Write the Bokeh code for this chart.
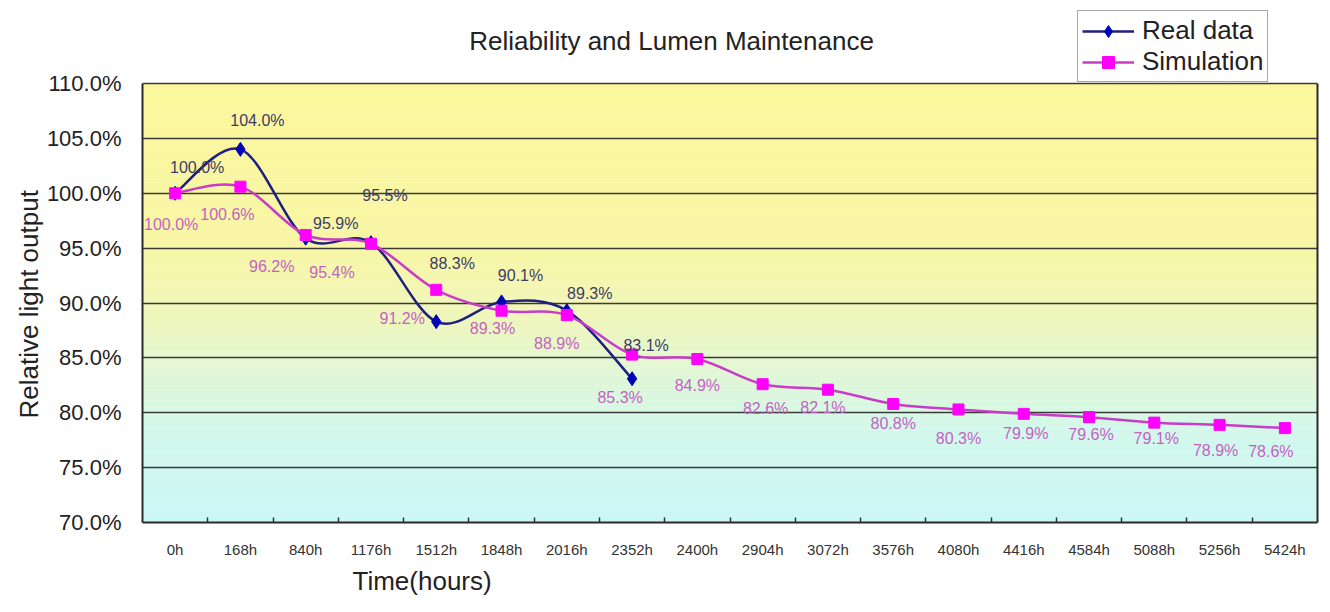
import numpy as np
from bokeh.plotting import figure
from bokeh.models import (Range1d, FixedTicker, PrintfTickFormatter, Label, Title,
                          Legend, LegendItem, ColumnDataSource, LinearAxis)
from bokeh.embed import file_html
from bokeh.resources import INLINE
from bokeh.core.properties import value

# ---------------- data ----------------
hours = ["0h", "168h", "840h", "1176h", "1512h", "1848h", "2016h", "2352h",
         "2400h", "2904h", "3072h", "3576h", "4080h", "4416h", "4584h",
         "5088h", "5256h", "5424h"]
real_data = [100.0, 104.0, 95.9, 95.5, 88.3, 90.1, 89.3, 83.1]
simulation = [100.0, 100.6, 96.2, 95.4, 91.2, 89.3, 88.9, 85.3, 84.9, 82.6,
              82.1, 80.8, 80.3, 79.9, 79.6, 79.1, 78.9, 78.6]
y_ticks = [70, 75, 80, 85, 90, 95, 100, 105, 110]

# data-label placement (pixel offsets, styling only)
real_dx = [22, 17, 30, 14, 16, 19, 23, 14]
real_dy = [-26, -29, -15, -47, -58, -26, -17, -33]
sim_dx = [-4, -13, -34, -39, -34, -9, -10, -12, 0, 3, -5, 0, 0, 2, 2, 2, -4, -14]
sim_dy = [31, 28, 32, 29, 29, 18, 28, 43, 27, 24, 18, 20, 29, 20, 17, 16, 26, 23]

FONT = "Liberation Sans"

# ---------------- layout constants (pixels) ----------------
W, H = 1330, 612
PLOT_L, PLOT_R, PLOT_T, PLOT_B = 142, 1317, 83, 522   # plot box in page px
FRAME_T = 4                                            # frame extends above plot box
Y_LO, Y_HI = 70.0, 110.0
y_top = Y_HI + (PLOT_T - FRAME_T) * (Y_HI - Y_LO) / (PLOT_B - PLOT_T)


def smooth_segments(vals, t=1.0 / 6.0):
    """Excel-like smoothed line: cubic bezier control points from data."""
    y = np.asarray(vals, dtype=float)
    x = np.arange(len(y), dtype=float)
    n = len(y)
    i = np.arange(n - 1)
    im1 = np.maximum(i - 1, 0)
    ip2 = np.minimum(i + 2, n - 1)
    return dict(
        x0=x[i], y0=y[i], x1=x[i + 1], y1=y[i + 1],
        cx0=x[i] + t * (x[i + 1] - x[im1]), cy0=y[i] + t * (y[i + 1] - y[im1]),
        cx1=x[i + 1] - t * (x[ip2] - x[i]), cy1=y[i + 1] - t * (y[ip2] - y[i]),
    )


X_LO, X_HI = -0.5, len(hours) - 0.5
p = figure(width=W, height=H, title=None,
           x_range=Range1d(X_LO, X_HI), y_range=Range1d(Y_LO, y_top),
           output_backend="svg", toolbar_location=None,
           min_border_left=PLOT_L, min_border_right=W - PLOT_R,
           min_border_top=FRAME_T, min_border_bottom=H - PLOT_B)
p.border_fill_color = "white"
p.background_fill_color = "white"
p.outline_line_color = None

# ---------------- gradient background ----------------
stops_v = [70, 78, 84, 89, 95, 110]
stops_c = [(203, 247, 246), (210, 248, 236), (226, 247, 212),
           (240, 246, 186), (248, 246, 166), (251, 247, 156)]
edges = np.arange(Y_LO, Y_HI + 0.001, 0.5)
mids = (edges[:-1] + edges[1:]) / 2
cols = []
for m in mids:
    r = int(round(np.interp(m, stops_v, [c[0] for c in stops_c])))
    g = int(round(np.interp(m, stops_v, [c[1] for c in stops_c])))
    b = int(round(np.interp(m, stops_v, [c[2] for c in stops_c])))
    cols.append("#%02x%02x%02x" % (r, g, b))
bg = p.quad(left=X_LO, right=X_HI, bottom=edges[:-1], top=edges[1:],
            fill_color=cols, line_color=cols, line_width=0.5)
bg.level = "image"

# ---------------- axes / grid ----------------
FRAME_COLOR = "#2b2b2b"
p.xgrid.visible = False
p.ygrid.ticker = FixedTicker(ticks=y_ticks)
p.ygrid.grid_line_color = "#3a3a3a"
p.ygrid.grid_line_width = 1.6

p.yaxis.ticker = FixedTicker(ticks=y_ticks)
p.yaxis.formatter = PrintfTickFormatter(format="%.1f%%")
p.yaxis.bounds = (Y_LO, Y_HI)
p.xaxis.ticker = FixedTicker(ticks=list(range(len(hours))),
                             minor_ticks=[i + 0.5 for i in range(len(hours) - 1)])
p.xaxis.major_label_overrides = {i: h for i, h in enumerate(hours)}

p.axis.axis_line_color = FRAME_COLOR
p.axis.axis_line_width = 2
p.axis.major_tick_line_color = None
p.yaxis.minor_tick_line_color = None
p.xaxis.minor_tick_line_color = "#333333"
p.xaxis.minor_tick_line_width = 1.5
p.xaxis.minor_tick_in = 5
p.xaxis.minor_tick_out = 0

# right edge of the plot box
p.add_layout(LinearAxis(ticker=FixedTicker(ticks=[]), bounds=(Y_LO, Y_HI),
                        axis_line_color=FRAME_COLOR, axis_line_width=2,
                        major_tick_line_color=None, minor_tick_line_color=None,
                        major_label_standoff=0), "right")

p.yaxis.major_label_text_font = FONT
p.yaxis.major_label_text_font_size = "22px"
p.yaxis.major_label_text_color = "#222222"
p.yaxis.major_label_standoff = 15
p.xaxis.major_label_text_font = FONT
p.xaxis.major_label_text_font_size = "15px"
p.xaxis.major_label_text_color = "#333333"
p.xaxis.major_label_standoff = 12

# ---------------- series ----------------
BLUE_LINE = "#1f1f80"
BLUE_MARK = "#0000b8"
PINK_LINE = "#c83cc8"
PINK_MARK = "#ff00ff"

real_x = list(range(len(real_data)))
sim_x = list(range(len(simulation)))

real_seg = ColumnDataSource(smooth_segments(real_data))
sim_seg = ColumnDataSource(smooth_segments(simulation))

r_curve = p.bezier(x0="x0", y0="y0", x1="x1", y1="y1", cx0="cx0", cy0="cy0",
                   cx1="cx1", cy1="cy1", source=real_seg,
                   line_color=BLUE_LINE, line_width=2.5)
r_pts = p.scatter(real_x, real_data, marker="diamond", size=14,
                  fill_color=BLUE_MARK, line_color=BLUE_MARK)
s_curve = p.bezier(x0="x0", y0="y0", x1="x1", y1="y1", cx0="cx0", cy0="cy0",
                   cx1="cx1", cy1="cy1", source=sim_seg,
                   line_color=PINK_LINE, line_width=2.5)
s_pts = p.scatter(sim_x, simulation, marker="square", size=11,
                  fill_color=PINK_MARK, line_color=PINK_MARK)

# ---------------- data labels ----------------
real_lbl = ColumnDataSource(dict(x=real_x, y=real_data,
                                 t=["%.1f%%" % v for v in real_data],
                                 dx=real_dx, dy=real_dy))
sim_lbl = ColumnDataSource(dict(x=sim_x, y=simulation,
                                t=["%.1f%%" % v for v in simulation],
                                dx=sim_dx, dy=sim_dy))
p.text(x="x", y="y", text="t", x_offset="dx", y_offset="dy", source=real_lbl,
       text_align="center", text_baseline="middle", text_font=value(FONT),
       text_font_size="16px", text_color="#3c3c66")
p.text(x="x", y="y", text="t", x_offset="dx", y_offset="dy", source=sim_lbl,
       text_align="center", text_baseline="middle", text_font=value(FONT),
       text_font_size="16px", text_color="#c462c4")

# ---------------- titles ----------------
p.add_layout(Label(x=671 - PLOT_L, y=PLOT_B - 40, x_units="screen", y_units="screen",
                   text="Reliability and Lumen Maintenance",
                   text_align="center", text_baseline="middle",
                   text_font=FONT, text_font_size="26px", text_color="#222222"))
p.add_layout(Title(text="Time(hours)", align="left", offset=210, standoff=7,
                   text_font=FONT, text_font_size="26px", text_font_style="normal",
                   text_color="#222222"), "below")
p.add_layout(Title(text="Relative light output", align="left", offset=104, standoff=0,
                   text_font=FONT, text_font_size="26px", text_font_style="normal",
                   text_color="#222222"), "left")

# ---------------- legend ----------------
legend = Legend(items=[LegendItem(label="Real data", renderers=[r_curve, r_pts]),
                       LegendItem(label="Simulation", renderers=[s_curve, s_pts])],
                location=(1077 - PLOT_L, PLOT_B - 82), orientation="vertical",
                label_text_font=FONT, label_text_font_size="26px",
                label_text_color="#222222", label_standoff=8,
                glyph_width=52, glyph_height=30, label_height=30,
                spacing=0, padding=4, margin=0,
                border_line_color="#555555", border_line_width=1.5,
                background_fill_color="white", background_fill_alpha=1.0)
p.add_layout(legend)

open("out.html", "w").write(file_html(p, INLINE))
